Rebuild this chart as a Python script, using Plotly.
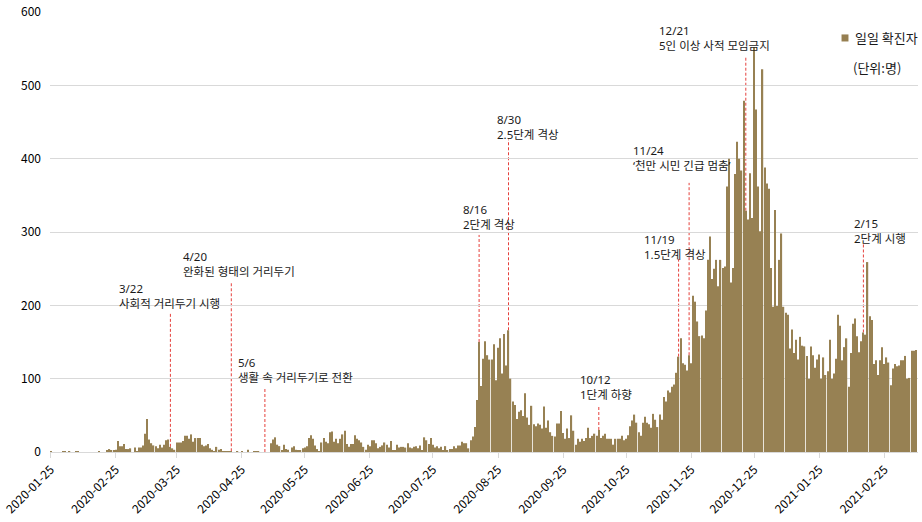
import pandas as pd
import plotly.graph_objects as go

# Daily confirmed cases (Seoul), one value per day starting 2020-01-25
start_date = "2020-01-25"
daily_cases = [
    1, 0, 0, 0, 0, 0, 1, 1, 0, 1,
    0, 0, 1, 1, 0, 0, 0, 0, 0, 0,
    0, 0, 0, 1, 0, 0, 0, 2, 4, 2,
    2, 3, 15, 8, 8, 11, 4, 4, 5, 0,
    6, 1, 6, 6, 9, 25, 45, 17, 12, 9,
    8, 5, 10, 6, 10, 16, 17, 7, 5, 3,
    13, 13, 13, 15, 22, 22, 18, 24, 14, 19,
    19, 19, 10, 8, 9, 11, 5, 3, 1, 7,
    3, 4, 1, 1, 1, 1, 1, 0, 0, 1,
    0, 1, 0, 0, 3, 0, 0, 1, 1, 1,
    0, 0, 0, 0, 0, 12, 17, 20, 10, 8,
    2, 10, 4, 3, 0, 6, 8, 3, 2, 2,
    5, 6, 8, 19, 23, 18, 9, 4, 1, 13,
    19, 14, 12, 27, 28, 14, 18, 12, 18, 24,
    29, 11, 7, 11, 11, 23, 18, 16, 13, 7,
    3, 10, 8, 16, 16, 12, 5, 7, 9, 13,
    10, 6, 15, 2, 2, 10, 6, 7, 7, 6,
    12, 6, 5, 7, 8, 5, 9, 2, 20, 16,
    11, 19, 10, 6, 8, 5, 7, 2, 8, 2,
    4, 4, 8, 5, 9, 9, 14, 12, 12, 5,
    16, 21, 34, 71, 150, 90, 127, 151, 132, 126,
    126, 147, 98, 142, 155, 107, 161, 118, 166, 100,
    69, 64, 45, 55, 57, 49, 80, 47, 37, 63,
    38, 35, 39, 37, 32, 62, 33, 43, 27, 22,
    21, 39, 39, 56, 26, 18, 32, 19, 50, 29,
    10, 18, 14, 18, 15, 19, 33, 19, 22, 25,
    22, 30, 19, 22, 25, 18, 18, 18, 10, 18,
    18, 18, 22, 16, 18, 23, 35, 43, 51, 40,
    27, 22, 40, 48, 40, 38, 33, 52, 44, 34,
    51, 44, 75, 69, 84, 81, 89, 92, 108, 130,
    155, 121, 119, 111, 132, 121, 213, 205, 178, 158,
    159, 155, 193, 262, 294, 236, 250, 262, 226, 262,
    251, 253, 362, 400, 231, 251, 379, 423, 400, 384,
    479, 329, 317, 380, 319, 552, 467, 362, 301, 522,
    388, 366, 359, 251, 198, 330, 199, 262, 298, 198,
    190, 187, 141, 167, 135, 153, 126, 157, 145, 144,
    131, 100, 144, 132, 115, 126, 133, 100, 129, 105,
    110, 153, 100, 107, 127, 187, 172, 125, 143, 155,
    89, 135, 175, 182, 158, 136, 151, 163, 160, 259,
    185, 180, 120, 125, 105, 125, 143, 120, 129, 122,
    91, 114, 120, 117, 118, 125, 125, 131, 100, 101,
    138, 138, 139,
]
dates = pd.date_range(start_date, periods=len(daily_cases), freq="D")

tick_dates = [
    "2020-01-25", "2020-02-25", "2020-03-25", "2020-04-25", "2020-05-25",
    "2020-06-25", "2020-07-25", "2020-08-25", "2020-09-25", "2020-10-25",
    "2020-11-25", "2020-12-25", "2021-01-25", "2021-02-25",
]
y_ticks = [0, 100, 200, 300, 400, 500, 600]

# Policy events
event_dates = [
    "2020-03-22", "2020-04-20", "2020-05-06", "2020-08-16", "2020-08-30",
    "2020-10-12", "2020-11-19", "2020-11-24", "2020-12-21", "2021-02-15",
]
event_titles = ["3/22", "4/20", "5/6", "8/16", "8/30", "10/12", "11/19", "11/24", "12/21", "2/15"]
event_texts = [
    "사회적 거리두기 시행", "완화된 형태의 거리두기", "생활 속 거리두기로 전환",
    "2단계 격상", "2.5단계 격상", "1단계 하향", "1.5단계 격상",
    "‘천만 시민 긴급 멈춤’", "5인 이상 사적 모임금지", "2단계 시행",
]

# Callout layout: top of the dashed marker, label block centre and label offset (px)
marker_tops = [191, 232, 88, 296, 426, 64, 263, 367, 539, 283]
label_levels = [213, 257, 112, 320, 443, 89, 280, 401, 565, 302]
label_dx = [-53, -50, -29, -18, -14, -21, -37, -58, -89, -11]

BAR_COLOR = "#967F51"
TEXT_COLOR = "#1a1a1a"
FONT = "Noto Sans CJK KR"
LABEL_FONT = "Noto Sans, Noto Sans CJK KR"

case_by_date = dict(zip(dates.strftime("%Y-%m-%d"), daily_cases))

fig = go.Figure()
fig.add_trace(go.Bar(
    x=dates, y=daily_cases, name="일일 확진자",
    marker=dict(color=BAR_COLOR, opacity=0.99, line=dict(width=0)),
    showlegend=False,
))

shapes = []
annotations = []
for d, title, txt, top, lvl, dx in zip(event_dates, event_titles, event_texts,
                                       marker_tops, label_levels, label_dx):
    shapes.append(dict(
        type="line", xref="x", yref="y", x0=d, x1=d,
        y0=case_by_date.get(d, 0), y1=top,
        line=dict(color="#E5403C", width=1, dash="3px,2px"), layer="below",
    ))
    annotations.append(dict(
        x=d, y=lvl, xref="x", yref="y", text=f"{title}<br>{txt}",
        showarrow=False, align="left",
        xanchor="left", yanchor="middle", xshift=dx,
        font=dict(size=11.5, color=TEXT_COLOR, family=LABEL_FONT),
    ))

# Legend key and unit note
shapes.append(dict(
    type="rect", xref="paper", yref="paper",
    x0=0.9119, x1=0.9199, y0=0.933, y1=0.949,
    fillcolor=BAR_COLOR, line=dict(width=0),
))
annotations.append(dict(
    x=0.925, y=0.941, xref="paper", yref="paper", text="일일 확진자",
    showarrow=False, xanchor="left", yanchor="middle",
    font=dict(size=13, color=TEXT_COLOR, family=FONT),
))
annotations.append(dict(
    x=0.9228, y=0.873, xref="paper", yref="paper", text="(단위:명)",
    showarrow=False, xanchor="left", yanchor="middle",
    font=dict(size=13, color=TEXT_COLOR, family=FONT),
))

fig.update_layout(
    width=922, height=522,
    margin=dict(l=50, r=4, t=12, b=70, autoexpand=False),
    paper_bgcolor="white", plot_bgcolor="white",
    bargap=0.42,
    font=dict(family=FONT, color=TEXT_COLOR),
    shapes=shapes, annotations=annotations,
)
fig.update_xaxes(
    type="date", automargin=False,
    range=["2020-01-24 16:00", "2021-03-13 00:00"],
    tickvals=tick_dates, ticktext=tick_dates,
    tickangle=-45, tickfont=dict(size=12, color="#000000", family=FONT),
    ticklabeloverflow="allow",
    showgrid=False, showline=True, linecolor="#d9d9d9", linewidth=1,
    ticks="outside", ticklen=5, tickcolor="#d9d9d9",
)
fig.update_yaxes(
    range=[0, 600], tickvals=y_ticks, automargin=False,
    tickfont=dict(size=12, color="#000000", family=FONT),
    showgrid=True, gridcolor="#d9d9d9", gridwidth=1,
    zeroline=False, showline=False, ticks="", ticklabelstandoff=8,
)

fig.write_html("out.html")
